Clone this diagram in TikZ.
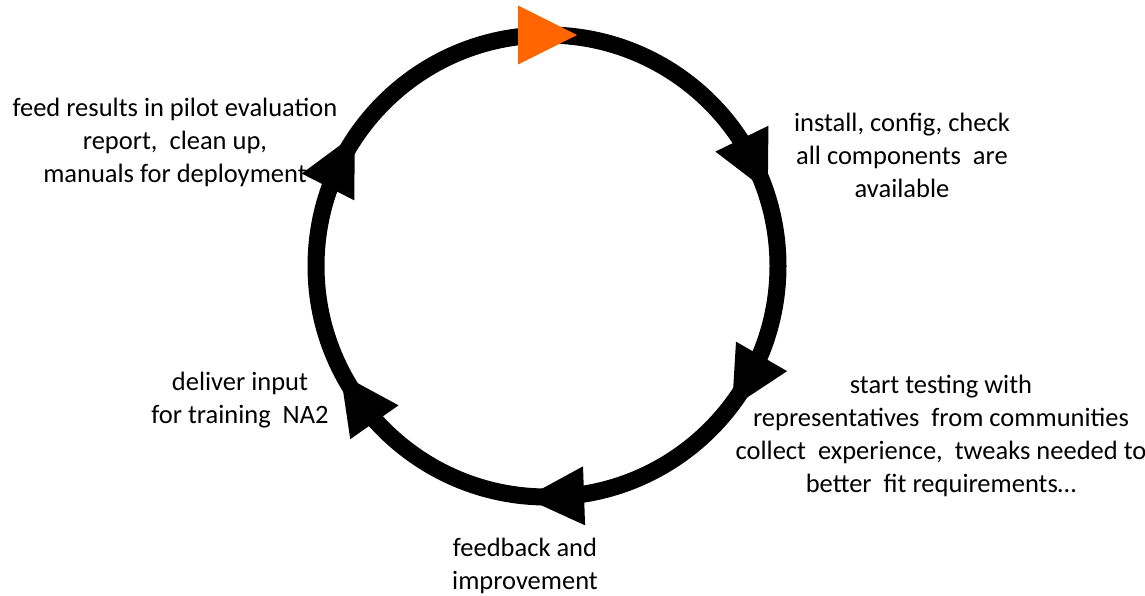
\documentclass[tikz,border=0pt]{standalone}
\usepackage{fontspec}
\setmainfont{Carlito}
\definecolor{arrorange}{HTML}{FF6600}
\tikzset{
  ring/.style={line width=17pt, draw=black},
  lbl/.style={align=center, font=\fontsize{26.5}{33}\selectfont, inner sep=0pt},
  headshape/.style={fill=black},
}
\newcommand{\cyclehead}[2]{%
  \fill[#2, shift={(547pt,-266pt)}, shift={(#1:231pt)}, rotate=#1-90]
    (30pt,0) -- (-29pt,29.5pt) -- (-29pt,-29.5pt) -- cycle;}
\begin{document}
\begin{tikzpicture}[x=1pt,y=1pt]
\useasboundingbox (0,0) rectangle (1145,-596);
\coordinate (C) at (547,-266);
\draw[ring] (C) circle (231);
\cyclehead{90}{arrorange}
\cyclehead{26}{headshape}
\cyclehead{-30}{headshape}
\cyclehead{-88}{headshape}
\cyclehead{-145}{headshape}
\cyclehead{153}{headshape}
\node[lbl] (t1) at (175,-142) {feed results in pilot evaluation\\report,\ \ clean up,\\manuals for deployment};
\node[lbl] (t2) at (902,-155) {install, config, check\\all components\ \ are\\available};
\node[lbl] (t3) at (941,-436) {start testing with\\representatives\ \ from communities\\collect\ \ experience,\ \ tweaks needed to\\better\ \ fit requirements\dots};
\node[lbl] (t4) at (525,-566) {feedback and\\improvement};
\node[lbl] (t5) at (240,-400) {deliver input\\for training\ \ NA2};
\end{tikzpicture}
\end{document}
